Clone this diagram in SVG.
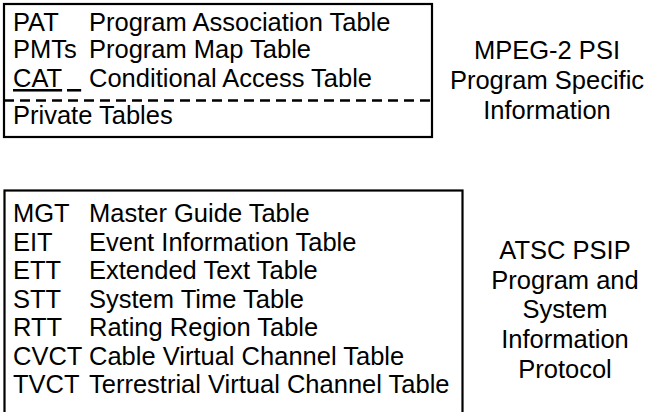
<svg xmlns="http://www.w3.org/2000/svg" width="647" height="412" viewBox="0 0 647 412">
<style>
.box{fill:#fff;stroke:#000;stroke-width:2.2}
.dash{stroke:#000;stroke-width:2.5;stroke-dasharray:10 6;fill:none}
.t{font-family:"Liberation Sans",Arial,sans-serif;font-size:25.5px;fill:#000;white-space:pre}
.c{text-anchor:middle}
</style>
<rect width="647" height="412" fill="#fff"/>
<g id="psi-box">
<rect class="box" x="4" y="4" width="428" height="133"/>
<line class="dash" x1="4" y1="100.5" x2="432" y2="100.5"/>
<text class="t" x="13" y="31">PAT<tspan x="89">Program Association Table</tspan></text>
<text class="t" x="13" y="58">PMTs<tspan x="89">Program Map Table</tspan></text>
<text class="t" x="13" y="87"><tspan text-decoration="underline">CAT</tspan><tspan x="67" text-decoration="underline">  </tspan><tspan x="89">Conditional Access Table</tspan></text>
<text class="t" x="13" y="124">Private Tables</text>
</g>
<g id="psi-label">
<text class="t c" x="547" y="59">MPEG-2 PSI</text>
<text class="t c" x="547" y="89">Program Specific</text>
<text class="t c" x="547" y="119">Information</text>
</g>
<g id="psip-box">
<rect class="box" x="4.5" y="190.5" width="458" height="240"/>
<text class="t" x="13" y="222">MGT<tspan x="89">Master Guide Table</tspan></text>
<text class="t" x="13" y="250.5">EIT<tspan x="89">Event Information Table</tspan></text>
<text class="t" x="13" y="279">ETT<tspan x="89">Extended Text Table</tspan></text>
<text class="t" x="13" y="307.5">STT<tspan x="89">System Time Table</tspan></text>
<text class="t" x="13" y="336">RTT<tspan x="89">Rating Region Table</tspan></text>
<text class="t" x="13" y="364.5">CVCT<tspan x="89">Cable Virtual Channel Table</tspan></text>
<text class="t" x="13" y="393">TVCT<tspan x="89">Terrestrial Virtual Channel Table</tspan></text>
</g>
<g id="psip-label">
<text class="t c" x="565" y="259">ATSC PSIP</text>
<text class="t c" x="565" y="289">Program and</text>
<text class="t c" x="565" y="318">System</text>
<text class="t c" x="565" y="348">Information</text>
<text class="t c" x="565" y="378">Protocol</text>
</g>
<g id="connectors"/>
</svg>
